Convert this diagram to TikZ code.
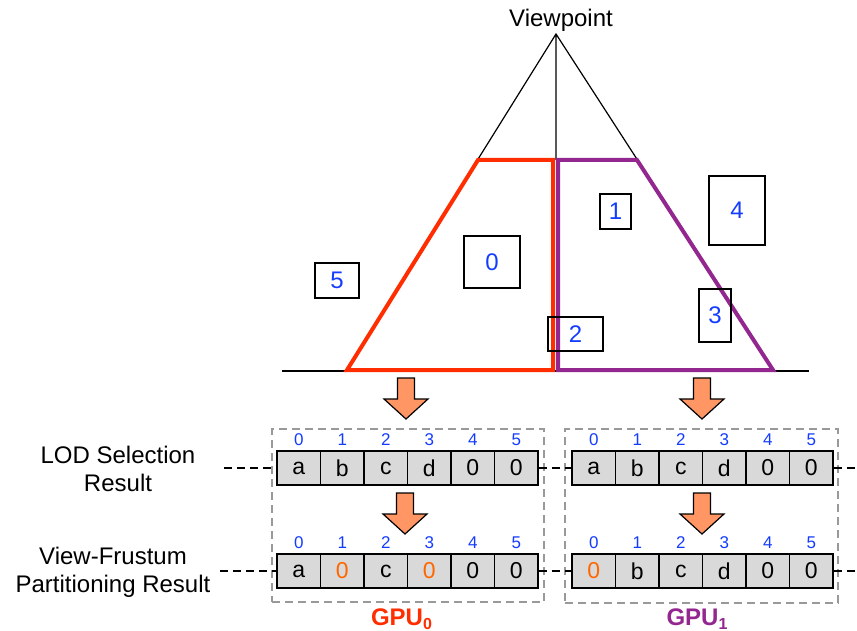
\documentclass[tikz,border=0pt]{standalone}
\usepackage{fontspec}
\setmainfont{Liberation Sans}
\usepackage{xcolor}
\usepackage{tikz}
\usetikzlibrary{positioning}

\definecolor{frustred}{RGB}{255,45,0}
\definecolor{gpupurple}{RGB}{147,39,143}
\definecolor{idxblue}{RGB}{20,60,255}
\definecolor{arrowfill}{RGB}{255,150,100}
\definecolor{hitorange}{RGB}{255,102,0}
\definecolor{cellgray}{RGB}{217,217,217}
\definecolor{boxgray}{RGB}{153,153,153}
\newcommand{\hitzero}{\textcolor{hitorange}{0}}

\begin{document}
\begin{tikzpicture} [x = 0.5pt, y = -0.5pt,
        obj/.style = {draw, line width = 0.75pt, inner sep = 0pt, text = idxblue,
            font = \fontsize{12}{14}\selectfont},
        cell/.style = {draw, fill = cellgray, line width = 0.75pt, inner sep = 0pt,
            minimum width = 21.75pt, minimum height = 17pt,
            font = \fontsize{11.5}{13}\selectfont},
        idx/.style = {inner sep = 0pt, text = idxblue, font = \fontsize{8.5}{10}\selectfont},
        gpubox/.style = {draw = boxgray, line width = 0.7pt, dash pattern = on 4pt off 2.5pt},
        link/.style = {line width = 0.6pt, dash pattern = on 4pt off 2.5pt},
        rowlabel/.style = {align = center, inner sep = 0pt, font = \fontsize{12}{14}\selectfont},
        downarrow/.style = {draw, fill = arrowfill, line width = 0.6pt}]

        \useasboundingbox (0,0) rectangle (857,631);

        % view frustum
        \node (vp) at (561,20) [font = \fontsize{12}{14}\selectfont] {Viewpoint};
        \coordinate (apex) at (556,34); \coordinate (split) at (556,160);
        \coordinate (bl) at (346,371); \coordinate (br) at (774,371);
        \coordinate (gl) at (282,371); \coordinate (gr) at (809,371);

        \draw [line width = 0.6pt] (gl) -- (gr);
        \draw [line width = 0.6pt] (bl) -- (apex) -- (br) (apex) -- (split);
        \draw [frustred, line width = 2pt]
            (478,160) -- (553,160) -- (553,370) -- (347,370) -- cycle;
        \draw [gpupurple, line width = 2pt]
            (558,160) -- (637,160) -- (773,370) -- (558,370) -- cycle;

        \node (obj0) at (492,262) [obj, minimum width = 28pt, minimum height = 26pt] {0};
        \node (obj1) at (615.5,211.5) [obj, minimum width = 15.5pt, minimum height = 17.5pt] {1};
        \node (obj2) at (575.5,334) [obj, minimum width = 27.5pt, minimum height = 17pt] {2};
        \node (obj3) at (715,315.5) [obj, minimum width = 16pt, minimum height = 26.5pt] {3};
        \node (obj4) at (737,210.5) [obj, minimum width = 28pt, minimum height = 34.5pt] {4};
        \node (obj5) at (337,280.5) [obj, minimum width = 22pt, minimum height = 17.5pt] {5};

        % per-GPU buffers
        \node (gpu0) at (408,515.5) [gpubox, minimum width = 136pt, minimum height = 86.5pt] {};
        \node (gpu1) at (701.5,516) [gpubox, minimum width = 136.5pt, minimum height = 87pt] {};

        \foreach \g/\x in {0/298.75, 1/593.75}
            \foreach \t [count = \i from 0] in {a,b,c,d,0,0} {
                \node (lod\g-\i) at (\x+43.5*\i,468) [cell] {\t};
                \node (lodn\g-\i) at (\x+43.5*\i,440) [idx] {\i};
            }
        \foreach \g/\x/\list in {0/298.75/{a,\hitzero,c,\hitzero,0,0}, 1/593.75/{\hitzero,b,c,d,0,0}}
            \foreach \t [count = \i from 0] in \list {
                \node (vfp\g-\i) at (\x+43.5*\i,571) [cell] {\t};
                \node (vfpn\g-\i) at (\x+43.5*\i,543) [idx] {\i};
            }

        \foreach \x/\y in {406/378, 702/378, 405/493, 702/493}
            \draw [downarrow] (\x-8.5,\y) -- (\x+8.5,\y) -- (\x+8.5,\y+21) -- (\x+22,\y+21)
                -- (\x,\y+41) -- (\x-22,\y+21) -- (\x-8.5,\y+21) -- cycle;

        \node (gpulbl0) at (402,619) [text = frustred, font = \fontsize{12}{14}\selectfont\bfseries]
            {GPU\textsubscript{0}};
        \node (gpulbl1) at (697.5,619) [text = gpupurple, font = \fontsize{12}{14}\selectfont\bfseries]
            {GPU\textsubscript{1}};

        % row labels and dashed links
        \node (lodlbl) at (118,469) [rowlabel] {LOD Selection\\Result};
        \node (vfplbl) at (113,572) [rowlabel] {View-Frustum\\Partitioning Result};
        \coordinate (lodin) at (224,468); \coordinate (lodout) at (857,468);
        \coordinate (vfpin) at (220,571); \coordinate (vfpout) at (857,571);

        \draw [link] (lodin) -- (lod0-0.west) (lod0-5.east) -- (lod1-0.west)
            (lod1-5.east) -- (lodout);
        \draw [link] (vfpin) -- (vfp0-0.west) (vfp0-5.east) -- (vfp1-0.west)
            (vfp1-5.east) -- (vfpout);
    \end{tikzpicture}
\end{document}
